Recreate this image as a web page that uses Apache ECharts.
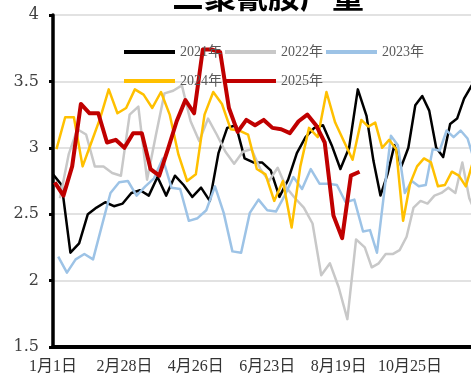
<!DOCTYPE html>
<html>
<head>
<meta charset="utf-8">
<script src="https://cdn.jsdelivr.net/npm/echarts@6/dist/echarts.min.js"></script>
<style>
  html, body { margin: 0; padding: 0; background: #fff; }
  #chart { width: 471px; height: 378px; }
</style>
</head>
<body>
<div id="chart"></div>
<script>
// Weekly melamine output (10k t). Every year is reported on Fridays;
// the x axis is the sorted union of all the month/day dates.
const seriesNames = ['2021年', '2022年', '2023年', '2024年', '2025年'];
const firstFriday = [[2021, 1, 1], [2022, 1, 7], [2023, 1, 6], [2024, 1, 5], [2025, 1, 3]];

const v2021 = [2.80, 2.72, 2.21, 2.28, 2.50, 2.55, 2.59, 2.56, 2.58, 2.66,
               2.68, 2.64, 2.78, 2.64, 2.79, 2.72, 2.63, 2.70, 2.60, 2.96,
               3.15, 3.17, 2.92, 2.89, 2.89, 2.83, 2.63, 2.76, 2.96, 3.08,
               3.15, 3.17, 3.02, 2.84, 3.00, 3.44, 3.24, 2.90, 2.64, 2.80,
               3.02, 2.86, 3.00, 3.32, 3.39, 3.28, 3.00, 2.93, 3.18, 3.22,
               3.37, 3.46, 3.55];
const v2022 = [2.62, 2.95, 3.14, 3.10, 2.86, 2.86, 2.81, 2.79, 3.25, 3.31,
               2.76, 3.09, 3.41, 3.43, 3.47, 3.20, 3.05, 3.22, 3.10, 2.97,
               2.88, 2.97, 2.99, 2.84, 2.75, 2.85, 2.70, 2.62, 2.55, 2.43,
               2.04, 2.13, 1.95, 1.71, 2.31, 2.25, 2.10, 2.13, 2.20, 2.20,
               2.23, 2.33, 2.55, 2.60, 2.58, 2.64, 2.66, 2.70, 2.66, 2.89,
               2.62, 2.50];
const v2023 = [2.18, 2.06, 2.16, 2.20, 2.16, 2.41, 2.66, 2.74, 2.75, 2.64,
               2.71, 2.77, 2.92, 2.70, 2.69, 2.45, 2.47, 2.53, 2.71, 2.51,
               2.22, 2.21, 2.51, 2.61, 2.53, 2.52, 2.64, 2.78, 2.69, 2.84,
               2.73, 2.73, 2.72, 2.59, 2.61, 2.37, 2.38, 2.21, 2.65, 3.09,
               3.02, 2.66, 2.75, 2.71, 2.72, 2.99, 2.98, 3.13, 3.08, 3.13,
               3.07, 2.90];
const v2024 = [2.99, 3.23, 3.23, 2.86, 3.04, 3.22, 3.44, 3.26, 3.30, 3.44,
               3.40, 3.30, 3.42, 3.25, 2.95, 2.75, 2.80, 3.25, 3.42, 3.33,
               3.14, 3.13, 3.10, 2.84, 2.80, 2.60, 2.75, 2.40, 2.86, 3.15,
               3.08, 3.42, 3.19, 3.05, 2.91, 3.21, 3.16, 3.19, 3.00, 3.06,
               2.99, 2.45, 2.73, 2.86, 2.92, 2.89, 2.71, 2.72, 2.82, 2.79,
               2.71, 2.89];
const v2025 = [2.74, 2.64, 2.86, 3.33, 3.26, 3.26, 3.04, 3.06, 3.00, 3.11,
               3.11, 2.84, 2.79, 2.99, 3.20, 3.36, 3.26, 3.74, 3.74, 3.72,
               3.30, 3.12, 3.21, 3.17, 3.21, 3.15, 3.14, 3.11, 3.20, 3.25,
               3.17, 3.04, 2.49, 2.32, 2.79, 2.82];

const yearValues = [v2021, v2022, v2023, v2024, v2025];

// month*100+day key of every weekly reading
const dateKeys = yearValues.map((vals, s) => {
  const [y, m, d] = firstFriday[s];
  return vals.map((_, i) => {
    const dt = new Date(Date.UTC(y, m - 1, d + 7 * i));
    return (dt.getUTCMonth() + 1) * 100 + dt.getUTCDate();
  });
});
const allKeys = [...new Set(dateKeys.flat())].sort((a, b) => a - b);
const categories = allKeys.map(k => Math.floor(k / 100) + '月' + (k % 100) + '日');

const seriesData = yearValues.map((vals, s) => {
  const row = new Array(allKeys.length).fill(null);
  vals.forEach((v, i) => { row[allKeys.indexOf(dateKeys[s][i])] = v; });
  return row;
});

const lineColors = ['#000000', '#c8c8c8', '#9dc3e6', '#ffc000', '#c00000'];
const lineWidths = [2.5, 2.5, 2.5, 2.5, 4];
const labelFont = '"Liberation Serif", "Noto Sans CJK SC", serif';

const legendCommon = {
  left: 119,
  itemWidth: 51,
  itemHeight: 4,
  itemGap: 3,
  icon: 'rect',
  selectedMode: false,
  textStyle: { fontSize: 14, color: '#595959', fontFamily: labelFont }
};

const chart = echarts.init(document.getElementById('chart'));
chart.setOption({
  animation: false,
  backgroundColor: '#ffffff',
  graphic: [{
    type: 'text',
    x: 268,
    y: 12,
    style: {
      text: '三聚氰胺产量',
      font: 'bold 32px "Noto Sans CJK SC"',
      fill: '#000000',
      align: 'center',
      verticalAlign: 'bottom'
    }
  }],
  legend: [
    Object.assign({ top: 40, data: seriesNames.slice(0, 3) }, legendCommon),
    Object.assign({ top: 69, data: seriesNames.slice(3) }, legendCommon)
  ],
  // the plot runs a little past the right edge of the page
  grid: { left: 53, top: 15, width: 425, height: 332, outerBoundsMode: 'none', containLabel: false },
  xAxis: {
    type: 'category',
    data: categories,
    boundaryGap: false,
    axisLine: { lineStyle: { color: '#000000', width: 4 } },
    axisTick: { show: true, interval: 0, length: 2, lineStyle: { color: '#000000', width: 1 } },
    axisLabel: {
      interval: 40,
      margin: 12,
      fontSize: 16,
      color: '#333333',
      fontFamily: labelFont,
      hideOverlap: false
    },
    splitLine: { show: false }
  },
  yAxis: {
    type: 'value',
    min: 1.5,
    max: 4,
    interval: 0.5,
    axisLine: { show: true, lineStyle: { color: '#000000', width: 3.5 } },
    axisTick: { show: true, length: 4, lineStyle: { color: '#000000', width: 3 } },
    axisLabel: { margin: 14, fontSize: 16, color: '#404040', fontFamily: '"DejaVu Serif", serif' },
    splitLine: { show: true, lineStyle: { color: '#d9d9d9', width: 1.5 } }
  },
  series: seriesNames.map((name, s) => ({
    name: name,
    type: 'line',
    data: seriesData[s],
    connectNulls: true,
    showSymbol: false,
    symbol: 'none',
    color: lineColors[s],
    lineStyle: { color: lineColors[s], width: lineWidths[s], join: 'round' },
    emphasis: { disabled: true }
  }))
});
</script>
</body>
</html>
